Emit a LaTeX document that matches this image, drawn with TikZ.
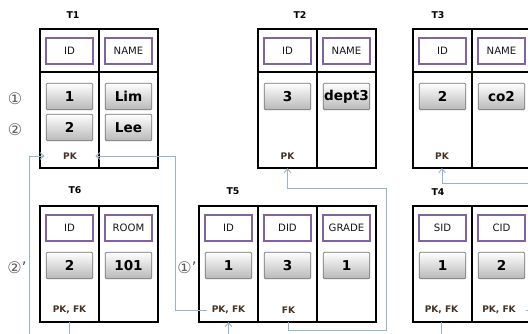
\documentclass[tikz,border=0pt]{standalone}
\usepackage{fontspec}
\setmainfont{DejaVu Sans}
\usetikzlibrary{arrows.meta}
\definecolor{hdrpurple}{RGB}{128,100,162}
\definecolor{linkblue}{RGB}{149,179,215}
\definecolor{keybrown}{RGB}{70,50,35}
\tikzset{
  tframe/.style={draw=black, line width=1.8pt},
  hdr/.style={draw=hdrpurple, line width=1.5pt, fill=white, minimum width=35pt,
    minimum height=19.5pt, inner sep=0pt, text=black!90, font=\fontsize{7.6}{9}\selectfont},
  cell/.style={draw=black!55, line width=0.6pt, rounded corners=1pt, top color=white,
    bottom color=black!28, minimum width=35pt, minimum height=20pt, inner sep=0pt,
    font=\fontsize{10.2}{12}\selectfont\bfseries},
  keytag/.style={text=keybrown, font=\fontsize{6.8}{8}\selectfont\bfseries},
  tname/.style={font=\fontsize{7}{8}\selectfont\bfseries},
  rownum/.style={text=black!65, font=\fontsize{12}{13}\selectfont},
  link/.style={draw=linkblue, line width=0.7pt, -{Straight Barb[length=3pt,width=5pt]}}
}
\newcommand{\tablebox}[5]{% name, left, top, columns, height
  \draw[tframe] (#2,#3) coordinate (#1nw) rectangle ++(#4*59,#5) coordinate (#1se);
  \foreach \c in {2,...,#4}
    \draw[tframe] (#2+\c*59-59,#3) -- ++(0,#5);}

\begin{document}
\begin{tikzpicture}[x=0.75pt, y=-0.75pt]
  \clip (0,0) rectangle (528,333);
  % top row
  \tablebox{t1}{40}{29}{2}{139}
  \draw[tframe] (t1nw |- 0,72) -- (t1se |- 0,72);
  \node[tname] (t1name) at (73,15) {T1};
  \foreach \h [count=\i] in {ID,NAME}
    \node[hdr] (t1h\i) at (10.5+59*\i,51) {\h};
  \node[cell] (t1a1) at (69.5,96.5) {1};
  \node[cell] (t1b1) at (128.5,96.5) {Lim};
  \node[cell] (t1a2) at (69.5,127.5) {2};
  \node[cell] (t1b2) at (128.5,127.5) {Lee};
  \node[keytag, minimum width=37.5pt] (t1pk) at (70,156) {PK};
  \node[rownum] (row1) at (15,99) {①};
  \node[rownum] (row2) at (15,130) {②};

  \tablebox{t2}{258}{29}{2}{139}
  \draw[tframe] (t2nw |- 0,72) -- (t2se |- 0,72);
  \node[tname] (t2name) at (300,15) {T2};
  \foreach \h [count=\i] in {ID,NAME}
    \node[hdr] (t2h\i) at (228.5+59*\i,51) {\h};
  \node[cell] (t2a1) at (287.5,96.5) {3};
  \node[cell] (t2b1) at (346.5,96.5) {dept3};
  \node[keytag] (t2pk) at (287.5,156) {PK};

  \tablebox{t3}{413}{29}{2}{139}
  \draw[tframe] (t3nw |- 0,72) -- (t3se |- 0,72);
  \node[tname] (t3name) at (438,15) {T3};
  \foreach \h [count=\i] in {ID,NAME}
    \node[hdr] (t3h\i) at (383.5+59*\i,51) {\h};
  \node[cell] (t3a1) at (442.5,96.5) {2};
  \node[cell] (t3b1) at (501.5,96.5) {co2};
  \node[keytag] (t3pk) at (442,156) {PK};

  % bottom row
  \tablebox{t6}{40}{206}{2}{116}
  \node[tname] (t6name) at (75,190) {T6};
  \foreach \h [count=\i] in {ID,ROOM}
    \node[hdr] (t6h\i) at (10.5+59*\i,227.5) {\h};
  \node[cell] (t6a1) at (69.5,265.5) {2};
  \node[cell] (t6b1) at (128.5,265.5) {101};
  \node[keytag] (t6pkfk) at (69.5,310) {PK, FK};
  \node[rownum] (row2b) at (17,268) {②’};

  \tablebox{t5}{199}{206}{3}{116}
  \node[tname] (t5name) at (233,191) {T5};
  \foreach \h [count=\i] in {ID,DID,GRADE}
    \node[hdr] (t5h\i) at (169.5+59*\i,227.5) {\h};
  \node[cell] (t5a1) at (228.5,265.5) {1};
  \node[cell] (t5b1) at (287.5,265.5) {3};
  \node[cell] (t5c1) at (346.5,265.5) {1};
  \node[keytag] (t5pkfk) at (228.5,310) {PK, FK};
  \node[keytag] (t5fk) at (288.5,310) {FK};
  \node[rownum] (row1b) at (187,268) {①’};

  \tablebox{t4}{413}{206}{2}{116}
  \node[tname] (t4name) at (438,192) {T4};
  \foreach \h [count=\i] in {SID,CID}
    \node[hdr] (t4h\i) at (383.5+59*\i,227.5) {\h};
  \node[cell] (t4a1) at (442.5,265.5) {1};
  \node[cell] (t4b1) at (501.5,265.5) {2};
  \node[keytag] (t4pkfk) at (441.5,310) {PK, FK};
  \node[keytag] (t4pkfkb) at (499,310) {PK, FK};

  % key links
  \coordinate (lowrail) at (0,345);
  \draw[link] (t6pkfk |- t6se) |- (29,345) |- (t1pk.west);
  \draw[link] (t5pkfk.west) -| (t1pk.east -| 175,0) -- (t1pk.east);
  \draw[link] (t4pkfk |- t4se) -- (t4pkfk |- lowrail) -| (t5pkfk |- t5se);
  \draw[link] (t5fk |- t5se) |- (386,330) |- (t2pk |- 0,188) -- (t2pk |- t2se);
  \draw[link, shorten <=4pt] (t4pkfkb.east) -- ++(40,0) |- (t3pk |- 0,183) -- (t3pk |- t3se);
\end{tikzpicture}
\end{document}
